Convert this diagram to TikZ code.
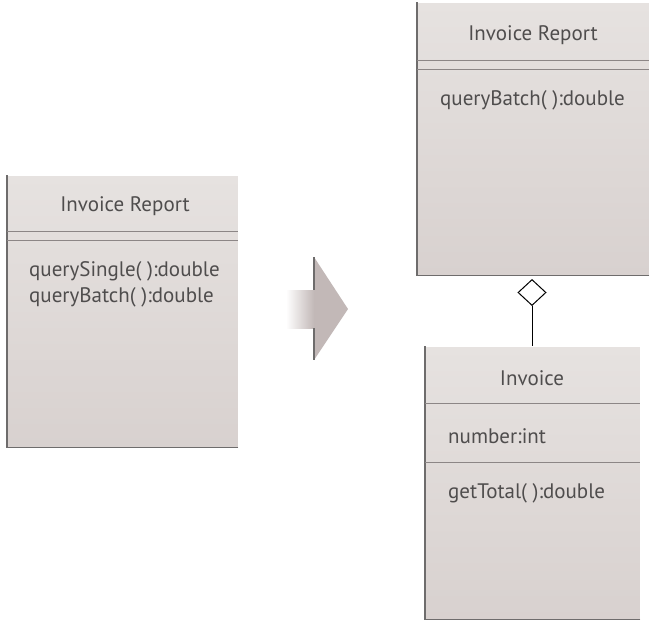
\documentclass[tikz,border=0pt]{standalone}
\usepackage{fontspec}
\setmainfont{PT Sans}
\usetikzlibrary{shapes.geometric}
\definecolor{boxtop}{HTML}{E6E2E0}
\definecolor{boxbot}{HTML}{D8D1CF}
\definecolor{txt}{HTML}{4F4D4D}
\definecolor{darkedge}{HTML}{6E6C6C}
\definecolor{sepline}{HTML}{8C8686}
\definecolor{arrowfill}{HTML}{C2B8B7}
\tikzset{
  x=1pt, y=-1pt,
  umlbox/.style={draw=none, top color=boxtop, bottom color=boxbot, anchor=north west, inner sep=0pt},
  darkside/.style={draw=darkedge, line width=1.3pt},
  lightside/.style={draw=white, line width=1pt},
  sep/.style={draw=sepline, line width=1pt},
  label/.style={text=txt, font=\fontsize{21}{24}\selectfont, inner sep=0pt},
  conn/.style={draw=black, line width=1pt},
}
\begin{document}
\begin{tikzpicture}
\useasboundingbox (0,0) rectangle (653,625);
% left box
\node[umlbox, minimum width=231pt, minimum height=272pt] (L) at (7,175) {};
\draw[lightside] (L.north west) -- (L.north east) -- (L.south east);
\draw[darkside] (L.north west) -- (L.south west) -- (L.south east);
\draw[sep] (7,231) -- (238,231);
\draw[sep] (7,240) -- (238,240);
\node[label] (Ltitle) at (125,206) {Invoice Report};
\node[label, anchor=west] (Lm1) at (29,271) {querySingle( ):double};
\node[label, anchor=west] (Lm2) at (29,297) {queryBatch( ):double};
% arrow
\shade[left color=white, right color=arrowfill, draw=none] (286,290) rectangle (314,328);
\fill[arrowfill] (314,257) -- (348,309) -- (314,360) -- cycle;
\draw[darkside] (314,257) -- (314,290);
\draw[darkside] (314,328) -- (314,360);
% top right box
\node[umlbox, minimum width=232pt, minimum height=273pt] (R) at (417,2) {};
\draw[lightside] (R.north west) -- (R.north east) -- (R.south east);
\draw[darkside] (R.north west) -- (R.south west) -- (R.south east);
\draw[sep] (417,60) -- (649,60);
\draw[sep] (417,69) -- (649,69);
\node[label] (Rtitle) at (533,35) {Invoice Report};
\node[label, anchor=west] (Rm1) at (440,100) {queryBatch( ):double};
% invoice box
\node[umlbox, minimum width=215pt, minimum height=273pt] (I) at (425,346) {};
\draw[lightside] (I.north west) -- (I.north east) -- (I.south east);
\draw[darkside] (I.north west) -- (I.south west) -- (I.south east);
\draw[sep] (425,403) -- (640,403);
\draw[sep] (425,462) -- (640,462);
\node[label] (Ititle) at (532,378) {Invoice};
\node[label, anchor=west] (Ia1) at (448,436) {number:int};
\node[label, anchor=west] (Im1) at (448,493) {getTotal( ):double};
% aggregation
\node[diamond, draw=black, line width=1pt, fill=white, minimum width=28pt, minimum height=26pt, inner sep=0pt] (D) at (532,292.5) {};
\draw[conn] (D.south) -- (I.north -| D.south);
\end{tikzpicture}
\end{document}
